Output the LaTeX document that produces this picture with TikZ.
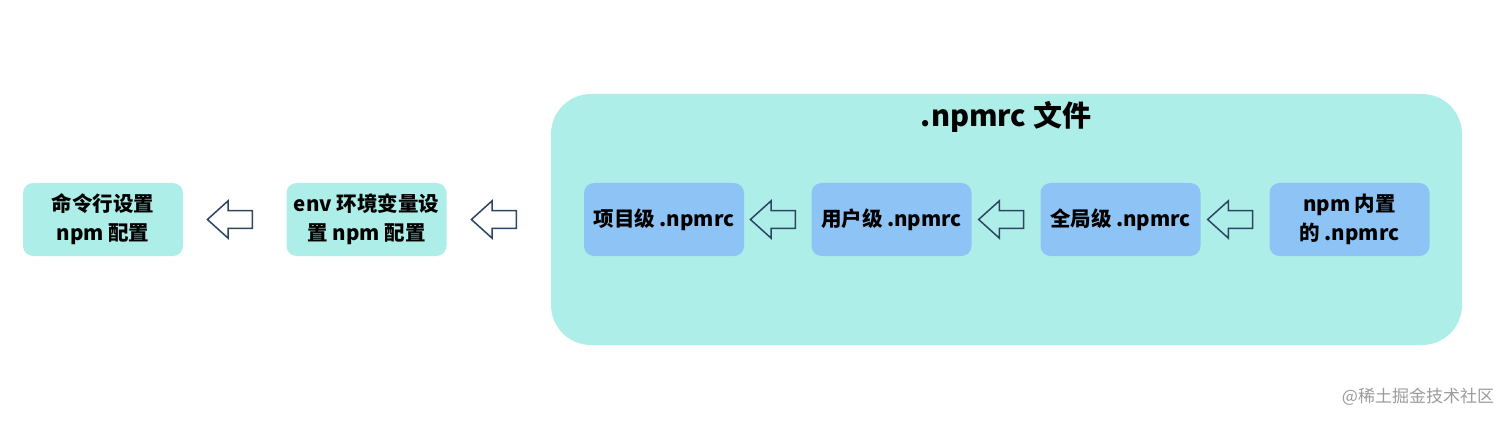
\documentclass[tikz,border=0pt]{standalone}
\usepackage{fontspec}
\setmainfont{Noto Sans CJK SC}
\usetikzlibrary{shapes.arrows,calc}
\definecolor{tealbox}{RGB}{174,238,232}
\definecolor{bluebox}{RGB}{142,196,245}
\definecolor{arrowc}{RGB}{45,68,98}
\definecolor{markc}{RGB}{155,155,155}

\begin{document}
\begin{tikzpicture}[x=1pt, y=-1pt,
        box/.style={rounded corners=10pt, minimum width=160pt, minimum height=73pt, inner sep=0pt,
            align=center, font=\fontsize{20.5}{29}\selectfont\bfseries},
        outer/.style={box, fill=tealbox},
        inner/.style={box, fill=bluebox},
        hollow/.style={single arrow, draw=arrowc, line width=1.5pt, inner sep=8pt,
            single arrow head extend=10pt, single arrow tip angle=84, minimum height=45pt,
            shape border rotate=180}
    ]

    \useasboundingbox (0,0) rectangle (1512,422);

    % .npmrc container
    \node[fill=tealbox, rounded corners=40pt, minimum width=911pt, minimum height=251pt] (npmrc) at (1006.5,219.5) {};
    \node[font=\fontsize{29}{34}\selectfont\bfseries] (title) at (1006,117) {.npmrc 文件};

    % config sources outside the file
    \node[outer] (cmd) at (103,219.5) {命令行设置\\npm 配置};
    \node[outer] (env) at (366.5,219.5) {env 环境变量设\\置 npm 配置};

    % levels of .npmrc
    \node[inner] (proj) at (664,219.5) {项目级 .npmrc};
    \node[inner] (user) at (891.5,219.5) {用户级 .npmrc};
    \node[inner] (glob) at (1120.5,219.5) {全局级 .npmrc};
    \node[inner] (builtin) at (1349.5,219.5) {npm 内置\\的 .npmrc};

    % priority arrows
    \node[hollow, fill=white] (a1) at ($(cmd.east)!.5!(env.west)$) {};
    \node[hollow, fill=white] (a2) at ($(env.east)!.5!(npmrc.west)$) {};
    \node[hollow] (a3) at ($(proj.east)!.5!(user.west)$) {};
    \node[hollow] (a4) at ($(user.east)!.5!(glob.west)$) {};
    \node[hollow] (a5) at ($(glob.east)!.5!(builtin.west)$) {};

    % watermark
    \node[font=\fontsize{17}{20}\selectfont, text=markc] (mark) at (1418,397) {@稀土掘金技术社区};

\end{tikzpicture}
\end{document}
